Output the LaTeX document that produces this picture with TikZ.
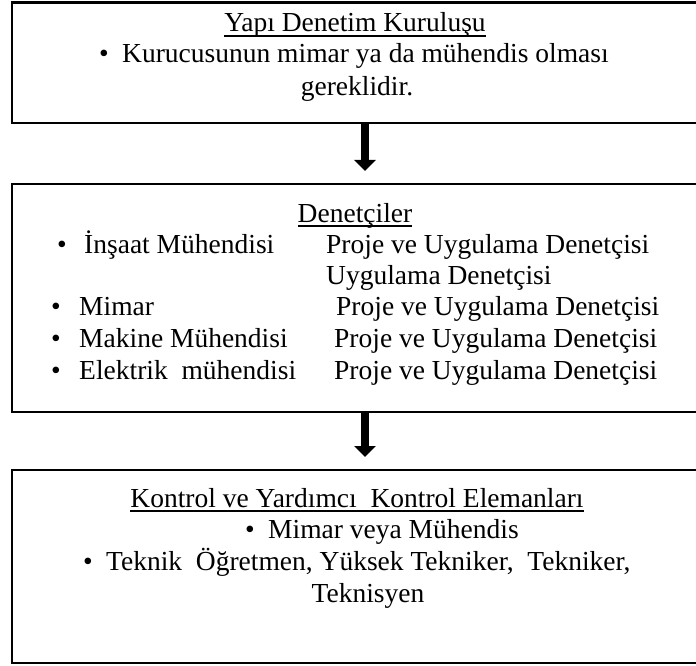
\documentclass[tikz,border=0pt]{standalone}
\usepackage{fontspec}
\setmainfont{Liberation Serif}
\usetikzlibrary{arrows.meta}
\begin{document}
\begin{tikzpicture}[x=1pt,y=-1pt,
  panel/.style={draw=black, line width=2.6pt, fill=white},
  txt/.style={inner sep=0pt, font=\fontsize{27.5}{33}\selectfont},
  uline/.style={line width=1.1pt},
  flow/.style={line width=8pt, -{Triangle[width=21pt,length=11pt]}, shorten >=13pt}]
  \useasboundingbox (0,0) rectangle (696,666);
  \fill[white] (0,0) rectangle (696,666);

  % three panels
  \draw[panel] (12,2.5) rectangle (699,123);
  \draw[panel] (12,184) rectangle (699,412);
  \draw[panel] (12,470) rectangle (699,663);
  \coordinate (p1s) at (365,123);
  \coordinate (p2n) at (365,184);
  \coordinate (p2s) at (365,412);
  \coordinate (p3n) at (365,470);

  % first panel
  \node[txt, anchor=base] (t1) at (355,32) {Yapı Denetim Kuruluşu};
  \draw[uline] ([yshift=-4pt]t1.base west) -- ([yshift=-4pt]t1.base east);
  \node[txt, anchor=base] (b1) at (104,63) {•};
  \node[txt, anchor=base west] (l1) at (122,63) {Kurucusunun mimar ya da mühendis olması};
  \node[txt, anchor=base] (l2) at (357,96) {gereklidir.};

  % second panel
  \node[txt, anchor=base] (t2) at (355,222) {Denetçiler};
  \draw[uline] ([yshift=-4pt]t2.base west) -- ([yshift=-4pt]t2.base east);
  \node[txt, anchor=base] (b21) at (62,253) {•};
  \node[txt, anchor=base west] (a1) at (84,253) {İnşaat Mühendisi};
  \node[txt, anchor=base west] (r1) at (326,253) {Proje ve Uygulama Denetçisi};
  \node[txt, anchor=base west] (r1b) at (326,284) {Uygulama Denetçisi};
  \node[txt, anchor=base] (b22) at (56,315) {•};
  \node[txt, anchor=base west] (a2) at (79,315) {Mimar};
  \node[txt, anchor=base west] (r2) at (336,315) {Proje ve Uygulama Denetçisi};
  \node[txt, anchor=base] (b23) at (56,347) {•};
  \node[txt, anchor=base west] (a3) at (79,347) {Makine Mühendisi};
  \node[txt, anchor=base west] (r3) at (334,347) {Proje ve Uygulama Denetçisi};
  \node[txt, anchor=base] (b24) at (56,379) {•};
  \node[txt, anchor=base west] (a4) at (79,379) {Elektrik\ \ mühendisi};
  \node[txt, anchor=base west] (r4) at (334,379) {Proje ve Uygulama Denetçisi};

  % third panel
  \node[txt, anchor=base] (t3) at (357,507) {Kontrol ve Yardımcı\ \ Kontrol Elemanları};
  \draw[uline] ([yshift=-4pt]t3.base west) -- ([yshift=-4pt]t3.base east);
  \node[txt, anchor=base] (b31) at (250,538) {•};
  \node[txt, anchor=base west] (c1) at (268,538) {Mimar veya Mühendis};
  \node[txt, anchor=base] (b32) at (88,570) {•};
  \node[txt, anchor=base west] (c2) at (106,570) {Teknik\ \ Öğretmen, Yüksek Tekniker,\ \ Tekniker,};
  \node[txt, anchor=base] (c3) at (368,602) {Teknisyen};

  % connectors
  \draw[flow] (p1s) -- (p2n);
  \draw[flow] (p2s) -- (p3n);
\end{tikzpicture}
\end{document}
